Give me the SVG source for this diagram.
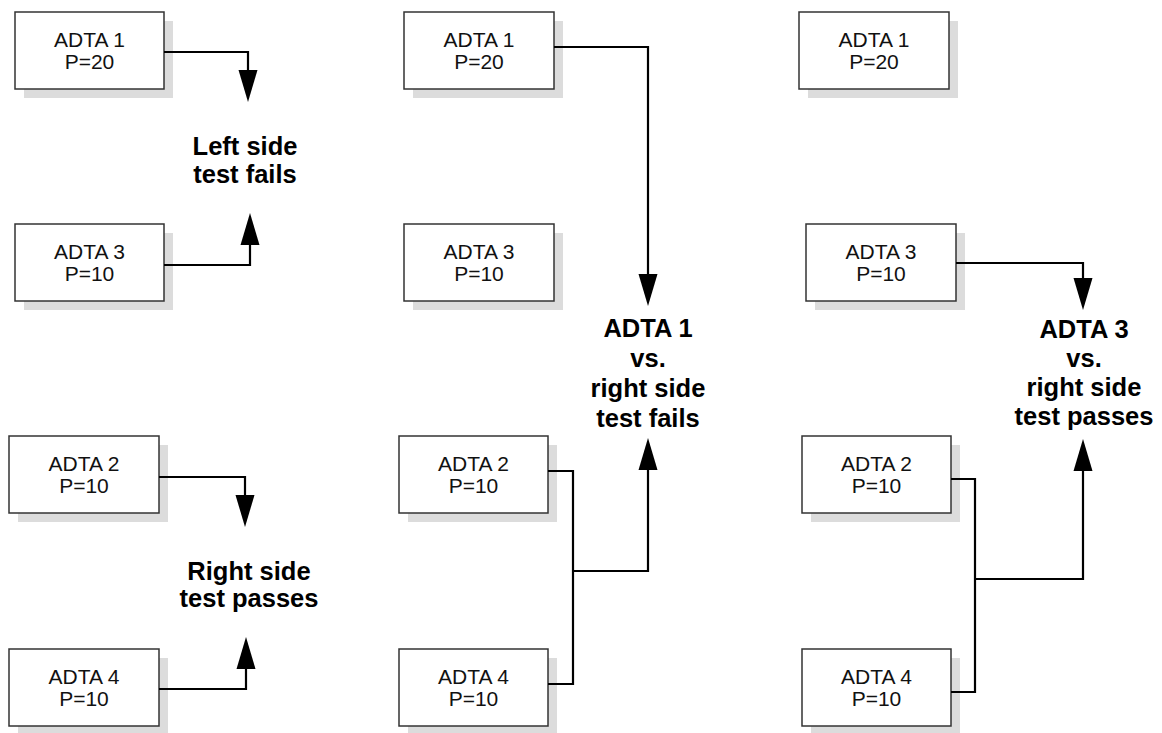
<svg xmlns="http://www.w3.org/2000/svg" width="1162" height="733" viewBox="0 0 1162 733">
<style>
.shadow{fill:#dcdcdc;stroke:none}
.box{fill:#fff;stroke:#333;stroke-width:1.5}
.t{font-family:"Liberation Sans",Arial,sans-serif;font-size:21px;fill:#111;text-anchor:middle}
.lbl{font-family:"Liberation Sans",Arial,sans-serif;font-size:25.5px;font-weight:bold;fill:#000;text-anchor:middle}
.c{fill:none;stroke:#000;stroke-width:2.2}
.a{marker-end:url(#ah)}
</style>
<defs>
<marker id="ah" markerUnits="userSpaceOnUse" markerWidth="34" markerHeight="22" viewBox="0 -11 34 22" refX="0" refY="0" orient="auto" overflow="visible">
<path d="M0,-9.5 L32,0 L0,9.5 Z" fill="#000"/>
</marker>
</defs>
<rect width="1162" height="733" fill="#fff"/>

<g id="c1-adta1"><rect class="shadow" x="24" y="21" width="149" height="77"/><rect class="box" x="15" y="12" width="149" height="77"/><text class="t" x="89.5" y="47">ADTA 1</text><text class="t" x="89.5" y="69">P=20</text></g>
<g id="c1-adta3"><rect class="shadow" x="24" y="233" width="149" height="77"/><rect class="box" x="15" y="224" width="149" height="77"/><text class="t" x="89.5" y="259">ADTA 3</text><text class="t" x="89.5" y="281">P=10</text></g>
<g id="c1-adta2"><rect class="shadow" x="18" y="445" width="150" height="77"/><rect class="box" x="9" y="436" width="150" height="77"/><text class="t" x="84" y="471">ADTA 2</text><text class="t" x="84" y="493">P=10</text></g>
<g id="c1-adta4"><rect class="shadow" x="18" y="658" width="150" height="77"/><rect class="box" x="9" y="649" width="150" height="77"/><text class="t" x="84" y="684">ADTA 4</text><text class="t" x="84" y="706">P=10</text></g>

<g id="c2-adta1"><rect class="shadow" x="413" y="21" width="150" height="77"/><rect class="box" x="404" y="12" width="150" height="77"/><text class="t" x="479" y="47">ADTA 1</text><text class="t" x="479" y="69">P=20</text></g>
<g id="c2-adta3"><rect class="shadow" x="413" y="233" width="150" height="77"/><rect class="box" x="404" y="224" width="150" height="77"/><text class="t" x="479" y="259">ADTA 3</text><text class="t" x="479" y="281">P=10</text></g>
<g id="c2-adta2"><rect class="shadow" x="408" y="445" width="149" height="77"/><rect class="box" x="399" y="436" width="149" height="77"/><text class="t" x="473.5" y="471">ADTA 2</text><text class="t" x="473.5" y="493">P=10</text></g>
<g id="c2-adta4"><rect class="shadow" x="408" y="658" width="149" height="77"/><rect class="box" x="399" y="649" width="149" height="77"/><text class="t" x="473.5" y="684">ADTA 4</text><text class="t" x="473.5" y="706">P=10</text></g>

<g id="c3-adta1"><rect class="shadow" x="808" y="21" width="150" height="77"/><rect class="box" x="799" y="12" width="150" height="77"/><text class="t" x="874" y="47">ADTA 1</text><text class="t" x="874" y="69">P=20</text></g>
<g id="c3-adta3"><rect class="shadow" x="815" y="233" width="150" height="77"/><rect class="box" x="806" y="224" width="150" height="77"/><text class="t" x="881" y="259">ADTA 3</text><text class="t" x="881" y="281">P=10</text></g>
<g id="c3-adta2"><rect class="shadow" x="811" y="445" width="149" height="77"/><rect class="box" x="802" y="436" width="149" height="77"/><text class="t" x="876.5" y="471">ADTA 2</text><text class="t" x="876.5" y="493">P=10</text></g>
<g id="c3-adta4"><rect class="shadow" x="811" y="658" width="149" height="77"/><rect class="box" x="802" y="649" width="149" height="77"/><text class="t" x="876.5" y="684">ADTA 4</text><text class="t" x="876.5" y="706">P=10</text></g>

<g id="labels">
<text class="lbl" x="245" y="155">Left side</text><text class="lbl" x="245" y="183">test fails</text>
<text class="lbl" x="249" y="580">Right side</text><text class="lbl" x="249" y="607">test passes</text>
<text class="lbl" x="648" y="337">ADTA 1</text><text class="lbl" x="648" y="367">vs.</text><text class="lbl" x="648" y="397">right side</text><text class="lbl" x="648" y="427">test fails</text>
<text class="lbl" x="1084" y="338">ADTA 3</text><text class="lbl" x="1084" y="367">vs.</text><text class="lbl" x="1084" y="396">right side</text><text class="lbl" x="1084" y="425">test passes</text>
</g>

<g id="connectors">
<path class="c a" d="M164,52 H248 V70"/>
<path class="c a" d="M164,265 H250 V245"/>
<path class="c a" d="M159,477 H245 V495"/>
<path class="c a" d="M159,689 H246 V669"/>
<path class="c a" d="M554,47 H648 V274"/>
<path class="c" d="M548,471 H573 V684 H548"/>
<path class="c a" d="M573,571 H648 V470"/>
<path class="c a" d="M956,263 H1083 V278"/>
<path class="c" d="M951,479 H975 V692 H951"/>
<path class="c a" d="M975,579 H1083 V471"/>
</g>
</svg>
